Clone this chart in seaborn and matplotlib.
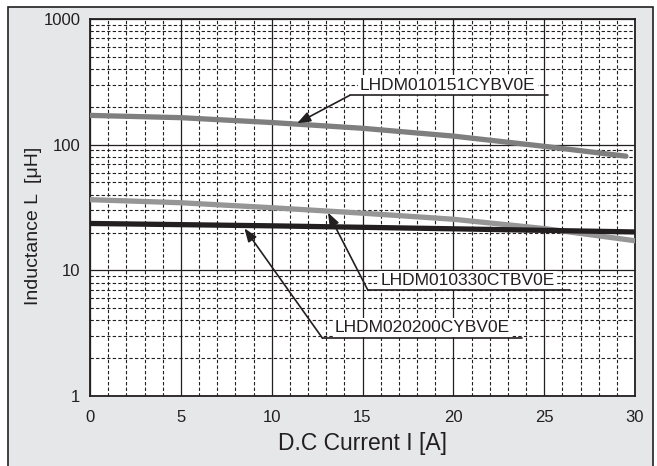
import matplotlib
matplotlib.use("Agg")
import matplotlib.pyplot as plt
import seaborn as sns
import pandas as pd
import numpy as np
from matplotlib.patches import Rectangle
from matplotlib.ticker import FixedLocator, NullFormatter

# current [A]
current_151 = [0, 5, 10, 15, 20, 25, 29.5]
current = [0, 5, 10, 15, 20, 25, 30]
# inductance [uH]
l_151 = [171, 164, 150, 135, 117, 97, 81]
l_330 = [36.5, 34.5, 31.5, 28.5, 25.5, 21.5, 17.2]
l_200 = [23.6, 23.1, 22.6, 22.0, 21.4, 20.8, 20.2]

names = ["LHDM010151CYBV0E", "LHDM010330CTBV0E", "LHDM020200CYBV0E"]
colors = ["#7f7f7f", "#969696", "#231f20"]

x_ticks = [0, 5, 10, 15, 20, 25, 30]
y_ticks = [1, 10, 100, 1000]
y_labels = ["1", "10", "100", "1000"]

sns.set_style("white")
plt.rcParams['font.family'] = ['Liberation Sans', 'DejaVu Sans']

fig = plt.figure(figsize=(6.57, 4.66), dpi=100)
fig.patch.set_facecolor("white")
fig.patches.append(Rectangle((8 / 657, -0.01), 645 / 657, 1 - 7 / 466 + 0.01,
                             transform=fig.transFigure, facecolor="#e6e7e8",
                             edgecolor="#231f20", linewidth=1.2, zorder=-5))
ax = fig.add_axes([90 / 657, 1 - 396 / 466, 545 / 657, 377 / 466])
ax.set_zorder(2)
ax.set_facecolor("white")

df = pd.concat([
    pd.DataFrame({"I": current_151, "L": l_151, "part": names[0]}),
    pd.DataFrame({"I": current, "L": l_330, "part": names[1]}),
    pd.DataFrame({"I": current, "L": l_200, "part": names[2]}),
])
for name, c in zip(names, colors):
    sub = df[df["part"] == name]
    sns.lineplot(data=sub, x="I", y="L", ax=ax, color=c, linewidth=3.8,
                 solid_capstyle="round", zorder=3, legend=False)

ax.set_yscale("log")
ax.set_xlim(0, 30)
ax.set_ylim(1, 1000)
ax.set_xticks(x_ticks)
ax.set_yticks(y_ticks)
ax.set_yticklabels(y_labels)
ax.xaxis.set_minor_locator(FixedLocator(np.arange(0, 31, 1)))
ax.yaxis.set_minor_locator(FixedLocator([m * 10 ** d for d in range(3) for m in range(2, 10)]))
ax.yaxis.set_minor_formatter(NullFormatter())
ax.grid(which="minor", color="#231f20", linestyle=(0, (3, 2)), linewidth=0.8)
ax.grid(which="major", color="#231f20", linestyle="-", linewidth=0.9)
ax.tick_params(which="both", length=0, labelsize=12, colors="#231f20")
ax.tick_params(axis="x", pad=10)
ax.tick_params(axis="y", pad=7)
for s in ax.spines.values():
    s.set_color("#231f20")
    s.set_linewidth(1.3)

ax.set_xlabel("D.C Current I [A]", fontsize=16.5, color="#231f20", labelpad=5)
ax.set_ylabel("Inductance L  [\u03bcH]", fontsize=14, color="#231f20")
ax.yaxis.set_label_coords(-0.088, 0.45)

# annotations: (tip, underline start, underline end, text pos)
notes = [
    (names[0], (11.4, 148), (14.3, 247), (25.2, 247), (19.7, 298)),
    (names[1], (13.1, 28.8), (15.3, 6.93), (26.4, 6.93), (20.8, 8.35)),
    (names[2], (8.5, 21.6), (12.8, 2.88), (23.8, 2.88), (18.3, 3.52)),
]
for label, tip, u0, u1, tpos in notes:
    ax.annotate("", xy=tip, xytext=u0, zorder=5,
                arrowprops=dict(arrowstyle="-|>,head_length=0.8,head_width=0.3",
                                color="#231f20", lw=1.2, shrinkA=0, shrinkB=0))
    ax.plot([u0[0], u1[0]], [u0[1], u1[1]], color="#231f20", lw=1.2, zorder=5)
    ax.text(tpos[0], tpos[1], label, ha="center", va="center", fontsize=12.5,
            color="#231f20", zorder=4,
            bbox=dict(facecolor="white", edgecolor="none", pad=1.5))

fig.savefig("out.png", dpi=100)
